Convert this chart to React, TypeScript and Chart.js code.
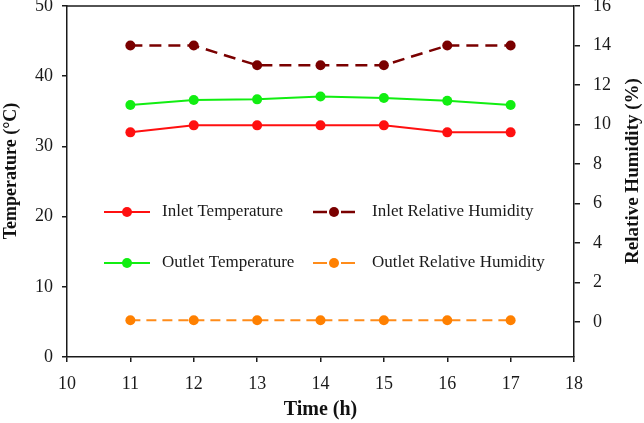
import React, { useEffect, useRef } from 'react';
import { Chart, registerables } from 'chart.js';

Chart.register(...registerables);

const hours = [11, 12, 13, 14, 15, 16, 17];
const inletTemperature = [32, 33, 33, 33, 33, 32, 32];
const outletTemperature = [35.9, 36.6, 36.7, 37.1, 36.9, 36.5, 35.9];
const inletHumidity = [14, 14, 13, 13, 13, 14, 14];
const outletHumidity = [0.1, 0.1, 0.1, 0.1, 0.1, 0.1, 0.1];

const timeTicks = [10, 11, 12, 13, 14, 15, 16, 17, 18];
const temperatureTicks = [0, 10, 20, 30, 40, 50];
const humidityTicks = [0, 2, 4, 6, 8, 10, 12, 14, 16];

const seriesNames = [
  'Inlet Temperature',
  'Outlet Temperature',
  'Inlet Relative Humidity',
  'Outlet Relative Humidity',
];

const xTitle = 'Time (h)';
const yTitle = 'Temperature (°C)';
const y1Title = 'Relative Humidity (%)';

const FONT = '"Liberation Serif", "Times New Roman", serif';
const AXIS = '#1a1a1a';

const toPoints = (ys: number[]) => hours.map((h, i) => ({ x: h, y: ys[i] }));

const tickSetter = (vals: number[]) => (scale: any) => {
  scale.ticks = vals.map((v) => ({ value: v }));
};

const legendPlugin = {
  id: 'customLegend',
  afterDraw(chart: any) {
    const ctx = chart.ctx;
    const ds = chart.data.datasets;
    const items = [
      { i: 0, x0: 104, x1: 150, tx: 162, y: 212 },
      { i: 1, x0: 104, x1: 150, tx: 162, y: 263 },
      { i: 2, x0: 313, x1: 355, tx: 372, y: 212 },
      { i: 3, x0: 313, x1: 355, tx: 372, y: 263 },
    ];
    ctx.save();
    items.forEach((it) => {
      const d = ds[it.i];
      const mx = (it.x0 + it.x1) / 2;
      ctx.strokeStyle = d.borderColor;
      ctx.lineWidth = d.borderWidth;
      ctx.setLineDash([]);
      ctx.beginPath();
      if (d.borderDash && d.borderDash.length) {
        ctx.moveTo(it.x0, it.y);
        ctx.lineTo(mx - 7, it.y);
        ctx.moveTo(mx + 7, it.y);
        ctx.lineTo(it.x1, it.y);
      } else {
        ctx.moveTo(it.x0, it.y);
        ctx.lineTo(it.x1, it.y);
      }
      ctx.stroke();
      ctx.fillStyle = d.pointBackgroundColor;
      ctx.beginPath();
      ctx.arc(mx, it.y, d.pointRadius, 0, Math.PI * 2);
      ctx.fill();
      ctx.fillStyle = '#1a1a1a';
      ctx.font = `17px ${FONT}`;
      ctx.textAlign = 'left';
      ctx.textBaseline = 'middle';
      ctx.fillText(d.label, it.tx, it.y);
    });
    ctx.restore();
  },
};

const framePlugin = {
  id: 'frameAndTitles',
  afterDraw(chart: any) {
    const ctx = chart.ctx;
    const a = chart.chartArea;
    ctx.save();
    ctx.strokeStyle = AXIS;
    ctx.lineWidth = 1.5;
    ctx.beginPath();
    ctx.moveTo(a.left, a.top);
    ctx.lineTo(a.right, a.top);
    ctx.stroke();

    ctx.fillStyle = '#111';
    ctx.textAlign = 'center';
    ctx.textBaseline = 'middle';
    ctx.font = `bold 20px ${FONT}`;
    ctx.fillText(xTitle, (a.left + a.right) / 2, 410);

    ctx.font = `bold 18px ${FONT}`;
    ctx.save();
    ctx.translate(11, 171);
    ctx.rotate(-Math.PI / 2);
    ctx.fillText(yTitle, 0, 0);
    ctx.restore();

    ctx.font = `bold 19px ${FONT}`;
    ctx.save();
    ctx.translate(633, 171);
    ctx.rotate(-Math.PI / 2);
    ctx.fillText(y1Title, 0, 0);
    ctx.restore();
    ctx.restore();
  },
};

export default function App() {
  const ref = useRef<HTMLCanvasElement>(null);

  useEffect(() => {
    if (!ref.current) return;
    const tickFont = { family: FONT, size: 18 };
    const chart = new Chart(ref.current, {
      type: 'line',
      data: {
        datasets: [
          {
            label: seriesNames[0],
            data: toPoints(inletTemperature),
            yAxisID: 'y',
            borderColor: '#ff1010',
            backgroundColor: '#ff1010',
            pointBackgroundColor: '#ff1010',
            pointBorderWidth: 0,
            borderWidth: 2,
            pointRadius: 5,
          } as any,
          {
            label: seriesNames[1],
            data: toPoints(outletTemperature),
            yAxisID: 'y',
            borderColor: '#11ee11',
            backgroundColor: '#11ee11',
            pointBackgroundColor: '#11ee11',
            pointBorderWidth: 0,
            borderWidth: 2,
            pointRadius: 5,
          },
          {
            label: seriesNames[2],
            data: toPoints(inletHumidity),
            yAxisID: 'y1',
            borderColor: '#7a0000',
            backgroundColor: '#7a0000',
            pointBackgroundColor: '#7a0000',
            pointBorderWidth: 0,
            borderWidth: 2.5,
            borderDash: [12, 7],
            pointRadius: 5,
          },
          {
            label: seriesNames[3],
            data: toPoints(outletHumidity),
            yAxisID: 'y1',
            borderColor: '#ff8c1a',
            backgroundColor: '#ff8000',
            pointBackgroundColor: '#ff8000',
            pointBorderWidth: 0,
            borderWidth: 2,
            borderDash: [10, 6],
            pointRadius: 5,
          },
        ],
      },
      options: {
        animation: false,
        responsive: false,
        maintainAspectRatio: false,
        layout: { padding: { top: 6, left: 0, right: 0, bottom: 0 } },
        plugins: {
          legend: { display: false },
          tooltip: { enabled: false },
        },
        scales: {
          x: {
            type: 'linear',
            position: 'bottom',
            min: 10,
            max: 18,
            afterBuildTicks: tickSetter(timeTicks),
            afterFit: (s: any) => {
              s.height = 66;
              s.paddingLeft = 0;
              s.paddingRight = 0;
            },
            grid: { drawOnChartArea: false, drawTicks: true, tickLength: 5, color: AXIS, lineWidth: 1.5 },
            border: { display: true, color: AXIS, width: 1.5 },
            ticks: { font: tickFont, color: '#1a1a1a', padding: 11, maxRotation: 0, autoSkip: false },
          },
          y: {
            type: 'linear',
            position: 'left',
            min: 0,
            max: 50,
            afterBuildTicks: tickSetter(temperatureTicks),
            afterFit: (s: any) => {
              s.width = 67;
              s.paddingTop = 0;
              s.paddingBottom = 0;
            },
            grid: { drawOnChartArea: false, drawTicks: true, tickLength: 5, color: AXIS, lineWidth: 1.5 },
            border: { display: true, color: AXIS, width: 1.5 },
            ticks: { font: tickFont, color: '#1a1a1a', padding: 9 },
          },
          y1: {
            type: 'linear',
            position: 'right',
            min: -1.76,
            max: 16,
            afterBuildTicks: tickSetter(humidityTicks),
            afterFit: (s: any) => {
              s.width = 70;
              s.paddingTop = 0;
              s.paddingBottom = 0;
            },
            grid: { drawOnChartArea: false, drawTicks: true, tickLength: 6, color: AXIS, lineWidth: 1.5 },
            border: { display: true, color: AXIS, width: 1.5 },
            ticks: { font: tickFont, color: '#1a1a1a', padding: 13 },
          },
        },
      },
      plugins: [legendPlugin, framePlugin],
    });
    return () => chart.destroy();
  }, []);

  return (
    <div style={{ position: 'fixed', left: 0, top: 0, width: 644, height: 423, background: '#fff' }}>
      <canvas ref={ref} width={644} height={423} style={{ width: 644, height: 423, display: 'block' }} />
    </div>
  );
}
